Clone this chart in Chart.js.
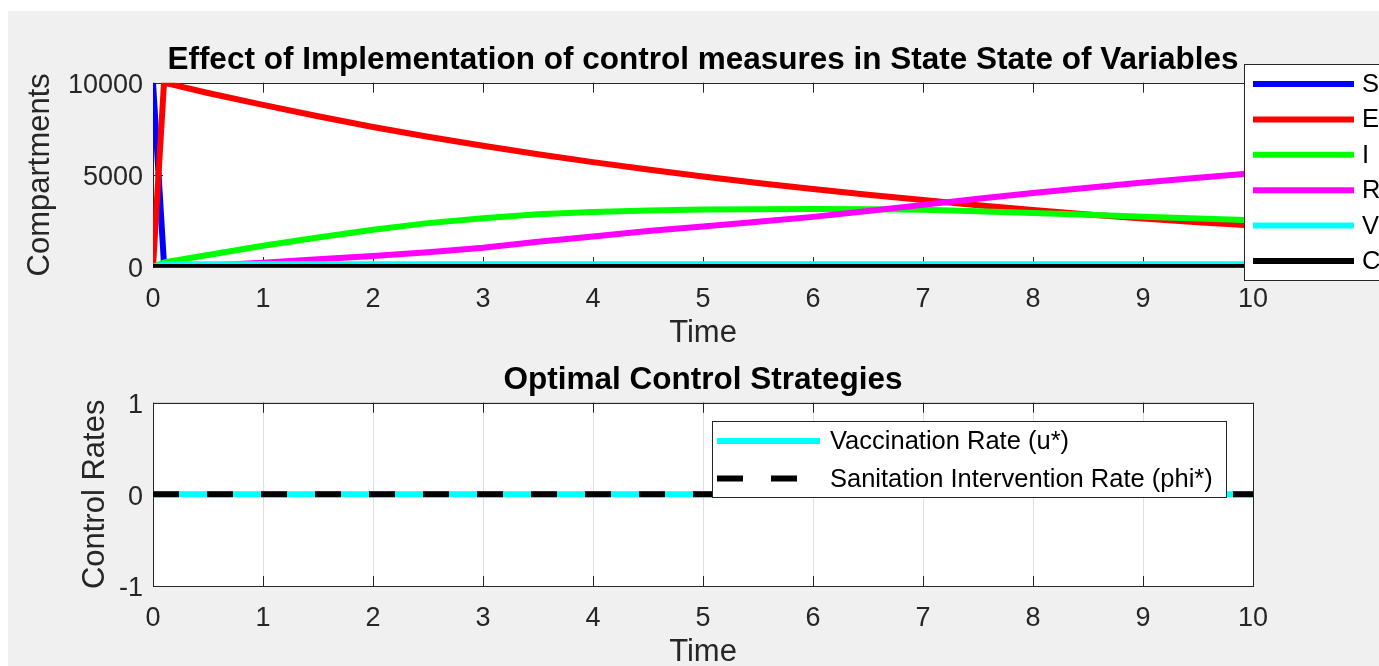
<!DOCTYPE html>
<html>
<head>
<meta charset="utf-8">
<script src="https://cdn.jsdelivr.net/npm/chart.js@4.4.1/dist/chart.umd.min.js"></script>
<style>
  html, body { margin: 0; padding: 0; background: #fff; overflow: hidden; width: 1379px; height: 666px; }
  #fig { position: absolute; left: 8px; top: 11px; right: 0; bottom: 0; background: #f0f0f0; }
  canvas { position: absolute; left: 0; }
  #topChart { top: 0; }
  #botChart { top: 340px; }
</style>
</head>
<body>
<div id="fig"></div>
<canvas id="topChart" width="1406" height="350"></canvas>
<canvas id="botChart" width="1406" height="326"></canvas>
<script>
// ---- data ----
const timePts = [0, 0.1, 0.5, 1, 1.5, 2, 2.5, 3, 3.5, 4, 4.5, 5, 5.5, 6, 6.5, 7, 7.5, 8, 8.5, 9, 9.5, 10];
const sVals = [10000, 150, 60, 30, 20, 15, 10, 10, 8, 6, 5, 5, 4, 4, 3, 3, 3, 2, 2, 2, 2, 2];
const eVals = [0, 10000, 9440, 8800, 8180, 7600, 7070, 6580, 6120, 5690, 5290, 4910, 4560, 4230, 3920, 3630, 3350, 3090, 2850, 2630, 2430, 2250];
const iVals = [0, 250, 650, 1150, 1600, 2020, 2380, 2650, 2860, 2990, 3070, 3120, 3140, 3150, 3140, 3100, 3020, 2930, 2830, 2730, 2630, 2530];
const rVals = [0, 0, 80, 230, 420, 600, 800, 1050, 1370, 1650, 1950, 2200, 2450, 2720, 3040, 3370, 3700, 4020, 4300, 4580, 4840, 5090];
const vVals = [0, 150, 150, 150, 150, 150, 150, 150, 150, 150, 150, 150, 150, 150, 150, 150, 150, 150, 150, 150, 150, 150];
const cVals = [0, 0, 0, 0, 0, 0, 0, 0, 0, 0, 0, 0, 0, 0, 0, 0, 0, 0, 0, 0, 0, 0];
const stateNames = ['S', 'E', 'I', 'R', 'V', 'C'];
const stateColors = ['#0000ff', '#ff0000', '#00ff00', '#ff00ff', '#00ffff', '#000000'];

const ctrlTime = [0, 1, 2, 3, 4, 5, 6, 7, 8, 9, 10];
const uVals = [0, 0, 0, 0, 0, 0, 0, 0, 0, 0, 0];
const phiVals = [0, 0, 0, 0, 0, 0, 0, 0, 0, 0, 0];
const ctrlNames = ['Vaccination Rate (u*)', 'Sanitation Intervention Rate (phi*)'];

const xTickVals = [0, 1, 2, 3, 4, 5, 6, 7, 8, 9, 10];
const topYTicks = [0, 5000, 10000];
const botYTicks = [-1, 0, 1];

const FONT = '"Liberation Sans", Arial, Helvetica, sans-serif';
const TXT = '#262626';

function pts(xs, ys) { return xs.map((x, i) => ({ x: x, y: ys[i] })); }

// white axes background, MATLAB style box with inward ticks, and legend box
const axesBox = {
  id: 'axesBox',
  beforeDraw(chart) {
    const a = chart.chartArea, c = chart.ctx;
    c.save();
    c.fillStyle = '#fff';
    c.fillRect(a.left, a.top, a.right - a.left, a.bottom - a.top);
    c.restore();
  },
  beforeDatasetsDraw(chart) {
    const a = chart.chartArea, c = chart.ctx;
    const xs = chart.scales.x, ys = chart.scales.y;
    const tl = 10;
    c.save();
    c.strokeStyle = TXT;
    c.lineWidth = 1;
    c.beginPath();
    xs.ticks.forEach(t => {
      const p = Math.round(xs.getPixelForValue(t.value)) + 0.5;
      c.moveTo(p, a.bottom); c.lineTo(p, a.bottom - tl);
      c.moveTo(p, a.top); c.lineTo(p, a.top + tl);
    });
    ys.ticks.forEach(t => {
      const p = Math.round(ys.getPixelForValue(t.value)) + 0.5;
      c.moveTo(a.left, p); c.lineTo(a.left + tl, p);
      c.moveTo(a.right, p); c.lineTo(a.right - tl, p);
    });
    c.stroke();
    c.strokeRect(Math.round(a.left) + 0.5, Math.round(a.top) + 0.5,
      Math.round(a.right - a.left), Math.round(a.bottom - a.top));
    c.restore();
  },
  afterDraw(chart, args, opts) {
    const lg = opts.legend;
    if (!lg) return;
    const c = chart.ctx;
    c.save();
    c.fillStyle = '#fff';
    c.fillRect(lg.x, lg.y, lg.w, lg.h);
    c.strokeStyle = TXT;
    c.lineWidth = 1;
    c.strokeRect(lg.x + 0.5, lg.y + 0.5, lg.w, lg.h);
    chart.data.datasets.forEach((ds, i) => {
      const y = lg.row0 + i * lg.rowGap;
      c.strokeStyle = ds.borderColor;
      c.lineWidth = ds.borderWidth;
      c.setLineDash(ds.borderDash || []);
      c.beginPath();
      c.moveTo(lg.line0, y);
      c.lineTo(lg.line1, y);
      c.stroke();
      c.setLineDash([]);
      c.fillStyle = '#000';
      c.font = lg.fontSize + 'px ' + FONT;
      c.textBaseline = 'middle';
      c.textAlign = 'left';
      c.fillText(ds.label, lg.textX, y + 1);
    });
    c.restore();
  }
};

function makeChart(id, datasets, cfg) {
  return new Chart(document.getElementById(id), {
    type: 'line',
    data: { datasets: datasets },
    plugins: [axesBox],
    options: {
      responsive: false,
      animation: false,
      layout: { padding: 0 },
      elements: { point: { radius: 0 } },
      plugins: {
        legend: { display: false },
        tooltip: { enabled: false },
        title: {
          display: true,
          text: cfg.title,
          color: '#000',
          font: { family: FONT, size: 31.5, weight: 'bold', lineHeight: 1.2 },
          padding: { top: cfg.titleTop, bottom: 83 - 37.8 - 41.4 }
        },
        axesBox: { legend: cfg.legend }
      },
      scales: {
        x: {
          type: 'linear',
          min: 0, max: 10,
          afterBuildTicks: s => { s.ticks = xTickVals.map(v => ({ value: v })); },
          afterFit: s => { s.height = cfg.xHeight; },
          grid: { display: cfg.grid, drawTicks: false, color: 'rgba(38,38,38,0.15)' },
          border: { display: false },
          ticks: { color: TXT, font: { family: FONT, size: 27 }, padding: 16, maxRotation: 0, autoSkip: false, callback: v => String(v) },
          title: { display: true, text: 'Time', color: TXT, font: { family: FONT, size: 31, lineHeight: 1.2 }, padding: { top: 0, bottom: cfg.xTitleBottom } }
        },
        y: {
          position: 'left',
          min: cfg.yMin, max: cfg.yMax,
          afterBuildTicks: s => { s.ticks = cfg.yTicks.map(v => ({ value: v })); },
          afterFit: s => { s.width = 153; },
          grid: { display: cfg.grid, drawTicks: false, color: 'rgba(38,38,38,0.15)' },
          border: { display: false },
          ticks: { color: TXT, font: { family: FONT, size: 27 }, padding: 10, labelOffset: 3, autoSkip: false, callback: v => String(v) },
          title: { display: true, text: cfg.yTitle, color: TXT, font: { family: FONT, size: 31, lineHeight: 1.2 }, padding: { top: cfg.yTitleTop, bottom: 0 } }
        },
        // empty right-hand strip so the titles centre on the axes
        yPad: {
          position: 'right',
          min: 0, max: 1,
          afterFit: s => { s.width = 153; },
          grid: { display: false },
          border: { display: false },
          ticks: { display: false },
          title: { display: false }
        }
      }
    }
  });
}

const stateVals = [sVals, eVals, iVals, rVals, vVals, cVals];
const stateSets = stateNames.map((name, i) => ({
  label: name,
  data: pts(timePts, stateVals[i]),
  borderColor: stateColors[i],
  borderWidth: 6,
  tension: 0,
  yAxisID: 'y',
  order: stateNames.length - 1 - i
}));

makeChart('topChart', stateSets, {
  title: 'Effect of Implementation of control measures in State State of Variables',
  titleTop: 41.1,
  xHeight: 83,
  xTitleBottom: -1.6,
  yTitle: 'Compartments',
  yTitleTop: 21.4,
  yMin: 0, yMax: 10000,
  yTicks: topYTicks,
  grid: false,
  legend: { x: 1244, y: 64, w: 200, h: 216, row0: 84, rowGap: 35.4, line0: 1253, line1: 1354, textX: 1362, fontSize: 25.5 }
});

const ctrlSets = [
  { label: ctrlNames[0], data: pts(ctrlTime, uVals), borderColor: '#00ffff', borderWidth: 6, tension: 0, yAxisID: 'y', order: 1 },
  { label: ctrlNames[1], data: pts(ctrlTime, phiVals), borderColor: '#000000', borderWidth: 6, borderDash: [26, 28], tension: 0, yAxisID: 'y', order: 0 }
];

makeChart('botChart', ctrlSets, {
  title: 'Optimal Control Strategies',
  titleTop: 21.1,
  xHeight: 80,
  xTitleBottom: -4.6,
  yTitle: 'Control Rates',
  yTitleTop: 76.4,
  yMin: -1, yMax: 1,
  yTicks: botYTicks,
  grid: true,
  legend: { x: 712, y: 81, w: 514, h: 76, row0: 101, rowGap: 37.5, line0: 717, line1: 820, textX: 830, fontSize: 25.5 }
});
</script>
</body>
</html>
